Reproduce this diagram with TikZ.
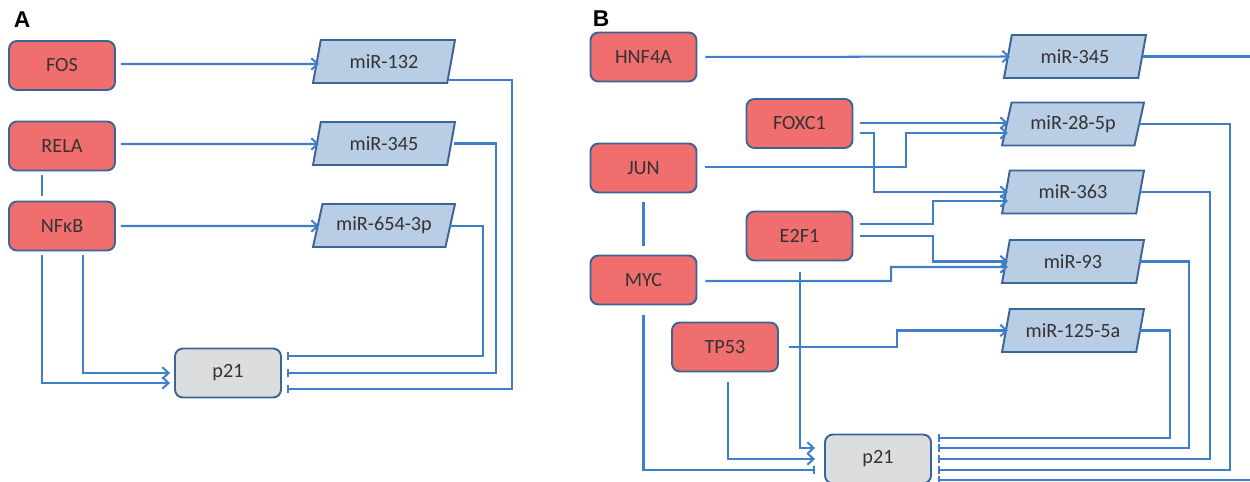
\documentclass[tikz,border=0pt]{standalone}
\usepackage{fontspec}
\setmainfont{Carlito}
\newfontfamily\panelfont{Liberation Sans}
\usetikzlibrary{shapes.geometric,arrows.meta,calc}

\definecolor{tfred}{HTML}{F06E6E}
\definecolor{mirblue}{HTML}{B9CDE5}
\definecolor{boxgray}{HTML}{DCDDDE}
\definecolor{edgeblue}{HTML}{3A6597}
\definecolor{linkblue}{HTML}{3F7FC9}
\definecolor{txtgray}{HTML}{333333}

\begin{document}
\begin{tikzpicture}[x=0.02cm, y=-0.02cm,
  font=\fontsize{11.5}{13}\selectfont,
  tf/.style={draw=edgeblue, line width=1.1pt, fill=tfred, rounded corners=4.5pt,
    minimum width=2.12cm, minimum height=0.98cm, inner sep=0pt, text=txtgray},
  target/.style={tf, fill=boxgray},
  mir/.style={trapezium, trapezium left angle=61, trapezium right angle=119,
    trapezium stretches body, draw=edgeblue, line width=1.1pt, fill=mirblue,
    minimum width=2.84cm, minimum height=0.86cm, inner sep=0pt, text=txtgray},
  link/.style={draw=linkblue, line width=1.15pt},
  act/.style={link, -{Straight Barb[length=3.5pt,width=6.5pt]}},
  inh/.style={link, -{Bar[width=5pt]}},
  panel/.style={font=\panelfont\bfseries\fontsize{13}{15}\selectfont}
]
  \useasboundingbox (0,0) rectangle (1250,482);

  % panel A
  \node[panel] (labA) at (22,20) {A};
  \node[tf] (fos) at (62,65.5) {FOS};
  \node[tf] (rela) at (62,146) {RELA};
  \node[tf] (nfkb) at (62,226) {NFκB};
  \node[target] (p21a) at (228,373) {p21};

  \node[mir] (m132) at (384,61.5) {miR-132};
  \node[mir] (m345a) at (384,143.5) {miR-345};
  \node[mir] (m654) at (384,225.5) {miR-654-3p};

  \draw[link] ($(rela.south)+(-20,4)$) -- ($(nfkb.north)+(-20,-5)$);

  % TF -> miRNA
  \draw[act] ($(fos.east)+(5,-1.5)$) -- ($(m132)+(-65,2.5)$);
  \draw[act] ($(rela.east)+(5,-2)$) -- ($(m345a)+(-65,0.5)$);
  \draw[act] ($(nfkb.east)+(5,0)$) -- ($(m654)+(-65,0.5)$);

  % miRNA -| p21
  \draw[inh] ($(m132)+(65,18.5)$) -- ++(63,0) |- ($(p21a.east)+(5,16)$);
  \draw[inh] ($(m345a)+(70,0)$) -- ++(42,0) |- ($(p21a.east)+(5,0)$);
  \draw[inh] ($(m654)+(65,0.5)$) -- ++(34,0) |- ($(p21a.east)+(5,-17)$);

  % NFkB -> p21
  \draw[act] ($(nfkb.south)+(-20,4)$) |- ($(p21a.west)+(-4,10)$);
  \draw[act] ($(nfkb.south)+(21,4)$) |- ($(p21a.west)+(-4,0)$);

  % panel B
  \node[panel] (labB) at (601,18.5) {B};
  \node[tf] (hnf) at (643.5,57) {HNF4A};
  \node[tf] (jun) at (643.5,168) {JUN};
  \node[tf] (myc) at (643.5,280) {MYC};
  \node[tf] (foxc) at (799.5,123.5) {FOXC1};
  \node[tf] (e2f) at (799.5,236) {E2F1};
  \node[tf] (tp53) at (725,347) {TP53};
  \node[target] (p21b) at (878,459) {p21};

  \node[mir] (m345b) at (1075,56.5) {miR-345};
  \node[mir] (m285) at (1073,124) {miR-28-5p};
  \node[mir] (m363) at (1073,192) {miR-363};
  \node[mir] (m93) at (1073,261.5) {miR-93};
  \node[mir] (m125) at (1073,330.5) {miR-125-5a};

  \draw[link] ($(jun.south)+(0,9)$) -- ($(myc.north)+(0,-9)$);

  % TF -> miRNA
  \draw[act] ($(hnf.east)+(8,0)$) -- ($(m345b)+(-65,0)$);
  \draw[act] ($(foxc.east)+(7,-0.5)$) -- ($(m285)+(-65,-1)$);
  \draw[act] ($(jun.east)+(8,-1)$) -| (906,133) -- ($(m285)+(-65,9)$);
  \draw[act] ($(foxc.east)+(7,9.5)$) -| (874,192) -- ($(m363)+(-65,0)$);
  \draw[act] ($(e2f.east)+(7,-12)$) -| (933,201) -- ($(m363)+(-65,9)$);
  \draw[act] ($(e2f.east)+(7,0)$) -| (933,261.5) -- ($(m93)+(-65,0)$);
  \draw[act] ($(myc.east)+(8,1)$) -| (891,267) -- ($(m93)+(-65,5.5)$);
  \draw[act] ($(tp53.east)+(10,0)$) -| (897,330.5) -- ($(m125)+(-65,0)$);

  % TF -> p21
  \draw[act] ($(e2f.south)+(0.5,11)$) |- ($(p21b.west)+(-9,-11)$);
  \draw[act] ($(tp53.south)+(3,10)$) |- ($(p21b.west)+(-9,0)$);
  \draw[inh] ($(myc.south)+(0,10)$) |- ($(p21b.west)+(-9,11)$);

  % miRNA -| p21
  \draw[inh] ($(m125)+(66,0)$) -- ++(31,0) |- ($(p21b.east)+(6,-21)$);
  \draw[inh] ($(m93)+(66,0)$) -- ++(50,0) |- ($(p21b.east)+(6,-11)$);
  \draw[inh] ($(m363)+(67,0)$) -- ++(70,0) |- ($(p21b.east)+(6,0)$);
  \draw[inh] ($(m285)+(66,0)$) -- ++(91,0) |- ($(p21b.east)+(6,11)$);
  \draw[inh] ($(m345b)+(67,0)$) -- ++(120,0) |- ($(p21b.east)+(6,21)$);
\end{tikzpicture}
\end{document}
